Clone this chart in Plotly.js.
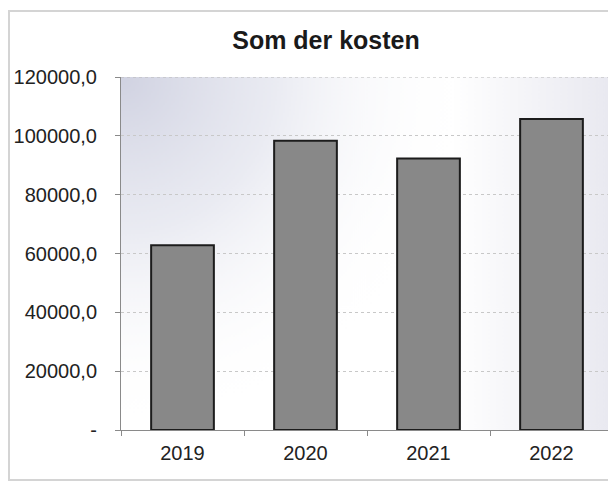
<!DOCTYPE html>
<html>
<head>
<meta charset="utf-8">
<script src="https://cdn.plot.ly/plotly-3.0.1.min.js"></script>
<style>
  html, body { margin: 0; padding: 0; background: #fff; overflow: hidden; width: 608px; height: 484px; }
  #chart { width: 620px; height: 484px; }
</style>
</head>
<body>
<div id="chart"></div>
<script>
// ---- data ----
var years = ['2019', '2020', '2021', '2022'];
var costs = [62800, 98300, 92300, 105700];
var yTickValues = [0, 20000, 40000, 60000, 80000, 100000, 120000];
var yTickLabels = ['-', '20000,0', '40000,0', '60000,0', '80000,0', '100000,0', '120000,0'];
var chartTitle = 'Som der kosten';

// ---- plot-area gradient background ----
function gradientImage() {
  var w = 490, h = 350;
  var c = document.createElement('canvas');
  c.width = w; c.height = h;
  var ctx = c.getContext('2d');
  ctx.fillStyle = '#ffffff';
  ctx.fillRect(0, 0, w, h);
  var r = ctx.createRadialGradient(0, 0, 0, 0, 0, 340);
  r.addColorStop(0, 'rgba(206,208,224,0.95)');
  r.addColorStop(0.45, 'rgba(220,222,234,0.6)');
  r.addColorStop(1, 'rgba(255,255,255,0)');
  ctx.fillStyle = r;
  ctx.fillRect(0, 0, w, h);
  var l = ctx.createLinearGradient(330, 0, w, 0);
  l.addColorStop(0, 'rgba(225,225,235,0)');
  l.addColorStop(1, 'rgba(225,225,235,0.75)');
  ctx.fillStyle = l;
  ctx.fillRect(0, 0, w, h);
  return c.toDataURL('image/png');
}

var fontFam = '"Liberation Sans", Arial, sans-serif';

var trace = {
  type: 'bar',
  x: years,
  y: costs,
  marker: { color: '#888888', line: { color: '#1c1c1c', width: 2 } },
  hoverinfo: 'none'
};

var layout = {
  width: 620,
  height: 484,
  margin: { l: 121, r: 7, t: 77, b: 54 },
  paper_bgcolor: '#ffffff',
  plot_bgcolor: 'rgba(0,0,0,0)',
  showlegend: false,
  bargap: 0.49,
  font: { family: fontFam, color: '#222222', size: 20 },
  title: {
    text: '<b>' + chartTitle + '</b>',
    font: { family: fontFam, size: 25, color: '#1a1a1a' },
    x: 326 / 620, xref: 'container', xanchor: 'center',
    y: 1 - 40 / 484, yref: 'container', yanchor: 'middle'
  },
  xaxis: {
    type: 'category',
    range: [-0.5, 3.5],
    showline: true, linecolor: '#8a8a8a', linewidth: 1,
    ticks: 'outside', ticklen: 5, tickcolor: '#8a8a8a', tickson: 'boundaries',
    showgrid: false,
    ticklabelstandoff: 5,
    tickfont: { family: fontFam, size: 20, color: '#222' },
    fixedrange: true
  },
  yaxis: {
    range: [0, 120000],
    tickvals: yTickValues,
    ticktext: yTickLabels,
    showline: true, linecolor: '#8a8a8a', linewidth: 1,
    ticks: 'outside', ticklen: 5, tickcolor: '#8a8a8a',
    showgrid: true, gridcolor: '#c8c8c8', gridwidth: 1, griddash: 'dot',
    zeroline: false,
    ticklabelstandoff: 14,
    tickfont: { family: fontFam, size: 20, color: '#222' },
    fixedrange: true
  },
  images: [{
    source: gradientImage(),
    xref: 'paper', yref: 'paper',
    x: 0, y: 1, sizex: 1, sizey: 1,
    sizing: 'stretch', layer: 'below', xanchor: 'left', yanchor: 'top'
  }],
  shapes: [{
    type: 'rect', xref: 'paper', yref: 'paper',
    x0: (9 - 121) / 492, x1: 1.05,
    y0: (430 - 480) / 353, y1: (430 - 11) / 353,
    line: { color: '#d4d4d4', width: 2 },
    fillcolor: 'rgba(0,0,0,0)',
    layer: 'below'
  }, {
    type: 'line', xref: 'paper', yref: 'y',
    x0: 0, x1: 1, y0: yTickValues[yTickValues.length - 1], y1: yTickValues[yTickValues.length - 1],
    line: { color: '#b8b8b8', width: 1, dash: 'dot' },
    layer: 'between'
  }]
};

Plotly.newPlot('chart', [trace], layout, { displayModeBar: false, staticPlot: true });
</script>
</body>
</html>
